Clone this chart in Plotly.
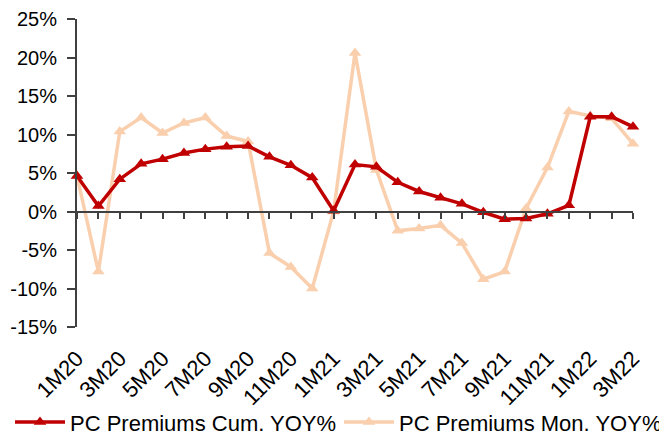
import plotly.graph_objects as go

months = ["1M20", "2M20", "3M20", "4M20", "5M20", "6M20", "7M20", "8M20", "9M20",
          "10M20", "11M20", "12M20", "1M21", "2M21", "3M21", "4M21", "5M21", "6M21",
          "7M21", "8M21", "9M21", "10M21", "11M21", "12M21", "1M22", "2M22", "3M22"]

cum_yoy = [4.6, 0.7, 4.2, 6.2, 6.8, 7.6, 8.1, 8.4, 8.5, 7.1, 6.0, 4.4, 0.1,
           6.1, 5.8, 3.8, 2.6, 1.8, 1.0, -0.1, -1.0, -0.9, -0.3, 0.8, 12.3, 12.3, 11.0]

mon_yoy = [4.6, -7.8, 10.4, 12.2, 10.2, 11.5, 12.2, 9.8, 9.1, -5.4, -7.2, -10.0, 0.0,
           20.6, 5.4, -2.5, -2.2, -1.8, -4.1, -8.8, -7.8, 0.4, 5.7, 13.0, 12.4, 12.1, 8.8]

y_ticks = [-15, -10, -5, 0, 5, 10, 15, 20, 25]

idx = list(range(len(months)))
tick_text = [m if i % 2 == 0 else "" for i, m in enumerate(months)]

FONT = "Liberation Sans, Arial, sans-serif"
RED = "#C00000"
PEACH = "#F9CFAE"
AXIS = "#404040"

fig = go.Figure()
fig.add_trace(go.Scatter(
    x=idx, y=mon_yoy, name="PC Premiums Mon. YOY%", mode="lines+markers",
    line=dict(color=PEACH, width=3.5),
    marker=dict(symbol="triangle-up", size=11, color=PEACH),
    cliponaxis=False, legend="legend2",
))
fig.add_trace(go.Scatter(
    x=idx, y=cum_yoy, name="PC Premiums Cum. YOY%", mode="lines+markers",
    line=dict(color=RED, width=3.5),
    marker=dict(symbol="triangle-up", size=11, color=RED),
    cliponaxis=False, legend="legend",
))
# invisible trace on xaxis2 so the zero-line axis with ticks renders
fig.add_trace(go.Scatter(x=[0], y=[None], xaxis="x2", showlegend=False,
                         hoverinfo="skip"))

legend_common = dict(orientation="h", xref="container", yref="container",
                     xanchor="left", y=0.05, yanchor="middle",
                     font=dict(size=22, family=FONT), itemwidth=50,
                     bgcolor="rgba(0,0,0,0)")

fig.update_layout(
    width=667, height=436,
    margin=dict(l=69, r=42, t=11, b=117, autoexpand=False),
    paper_bgcolor="white", plot_bgcolor="white",
    font=dict(family=FONT, size=20, color="#000000"),
    showlegend=True,
    legend=dict(x=2 / 667, **legend_common),
    legend2=dict(x=331 / 667, **legend_common),
    xaxis=dict(
        range=[0, 26], tickmode="array", tickvals=idx, ticktext=tick_text,
        tickangle=-45, showline=False, showgrid=False, zeroline=False,
        ticks="outside", ticklen=9, tickcolor="rgba(0,0,0,0)",
        tickfont=dict(size=22), automargin=False,
    ),
    xaxis2=dict(
        range=[0, 26], overlaying="x", anchor="free", position=15 / 40,
        tickmode="array", tickvals=idx, ticktext=[""] * len(idx),
        showline=True, linecolor=AXIS, linewidth=2, ticks="outside",
        ticklen=6, tickwidth=2, tickcolor=AXIS, showgrid=False, zeroline=False,
        side="bottom", automargin=False,
    ),
    yaxis=dict(
        range=[-15, 25], tickmode="array", tickvals=y_ticks,
        ticktext=[f"{v}%" for v in y_ticks], showline=True, linecolor=AXIS,
        linewidth=2, ticks="outside", ticklen=8, tickwidth=2, tickcolor=AXIS,
        showgrid=False, zeroline=False, ticklabelstandoff=6,
        tickfont=dict(size=20), automargin=False,
    ),
)

fig.write_html("out.html")
